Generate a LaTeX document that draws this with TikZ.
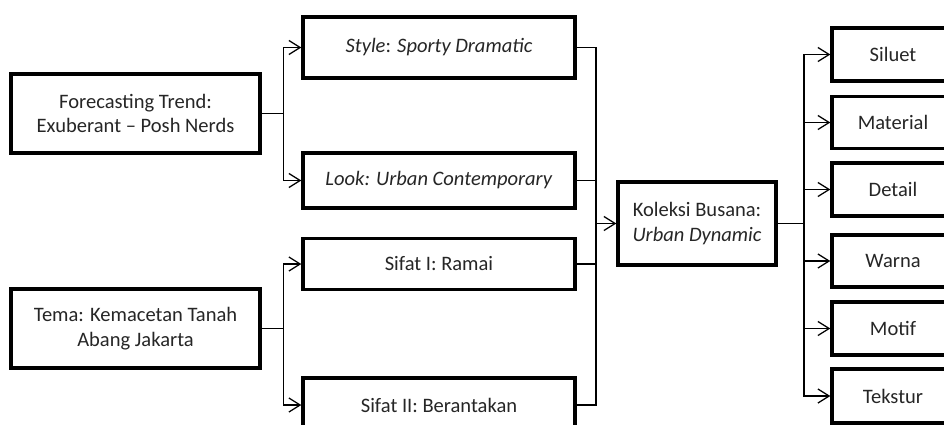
\documentclass[tikz,border=0pt]{standalone}
\usepackage{fontspec}
\setmainfont{Carlito}
\usepackage{tikz}
\usetikzlibrary{positioning, arrows.meta}
\definecolor{inkgray}{RGB}{38, 38, 38}
\tikzset{
  box/.style={
    draw=black,
    line width=2.4pt,
    fill=white,
    align=center,
    inner sep=2pt,
    text=inkgray,
    font=\fontsize{14.6}{17.5}\selectfont
  },
  wire/.style={
    draw=black,
    line width=0.9pt
  },
  arr/.style={
    wire,
    -{Straight Barb[length=8pt, width=10pt, line width=0.9pt]}
  }
}
\begin{document}
\begin{tikzpicture}[x=0.025cm, y=-0.025cm]
  \clip (0,0) rectangle (944,424);
  % sources
  \node[box, minimum width=249*0.025cm, minimum height=79*0.025cm] (trend) at (135.5, 113.5) {Forecasting Trend:\\Exuberant -- Posh Nerds};
  \node[box, minimum width=249*0.025cm, minimum height=79*0.025cm] (tema) at (135.5, 328.5) {Tema: Kemacetan Tanah\\Abang Jakarta};
  % middle column
  \node[box, minimum width=272*0.025cm, minimum height=61*0.025cm] (style) at (439, 47.5) {\textit{Style}: \textit{Sporty Dramatic}};
  \node[box, minimum width=272*0.025cm, minimum height=55*0.025cm] (look) at (439, 180.5) {\textit{Look: Urban Contemporary}};
  \node[box, minimum width=272*0.025cm, minimum height=51*0.025cm] (sifat1) at (439, 264) {Sifat I: Ramai};
  \node[box, minimum width=272*0.025cm, minimum height=54*0.025cm] (sifat2) at (439, 405) {Sifat II: Berantakan};
  % collection
  \node[box, minimum width=158*0.025cm, minimum height=83*0.025cm] (koleksi) at (697, 223.5) {Koleksi Busana:\\\textit{Urban Dynamic}};
  % elements
  \node[box, minimum width=122*0.025cm, minimum height=53*0.025cm] (siluet) at (893, 54.5) {Siluet};
  \node[box, minimum width=122*0.025cm, minimum height=52*0.025cm] (material) at (893, 122.5) {Material};
  \node[box, minimum width=122*0.025cm, minimum height=53*0.025cm] (detail) at (893, 189.5) {Detail};
  \node[box, minimum width=122*0.025cm, minimum height=52*0.025cm] (warna) at (893, 261) {Warna};
  \node[box, minimum width=122*0.025cm, minimum height=53*0.025cm] (motif) at (893, 328.5) {Motif};
  \node[box, minimum width=122*0.025cm, minimum height=54*0.025cm] (tekstur) at (893, 396) {Tekstur};

  \coordinate (busin) at (596, 223.5);
  \coordinate (busout) at (804, 223.5);

  \draw[arr] (trend.east) -- ++(22,0) |- (style.west);
  \draw[arr] (trend.east) -- ++(22,0) |- (look.west);
  \draw[arr] (tema.east) -- ++(22,0) |- (sifat1.west);
  \draw[arr] (tema.east) -- ++(22,0) |- (sifat2.west);

  \draw[wire] (style.east) -| (busin);
  \draw[wire] (look.east) -| (busin);
  \draw[wire] (sifat1.east) -| (busin);
  \draw[wire] (sifat2.east) -| (busin);
  \draw[arr] (busin) -- (koleksi.west);

  \draw[wire] (koleksi.east) -- (busout);
  \foreach \t in {siluet, material, detail, warna, motif, tekstur}
    \draw[arr] (busout) |- (\t.west);
\end{tikzpicture}
\end{document}
